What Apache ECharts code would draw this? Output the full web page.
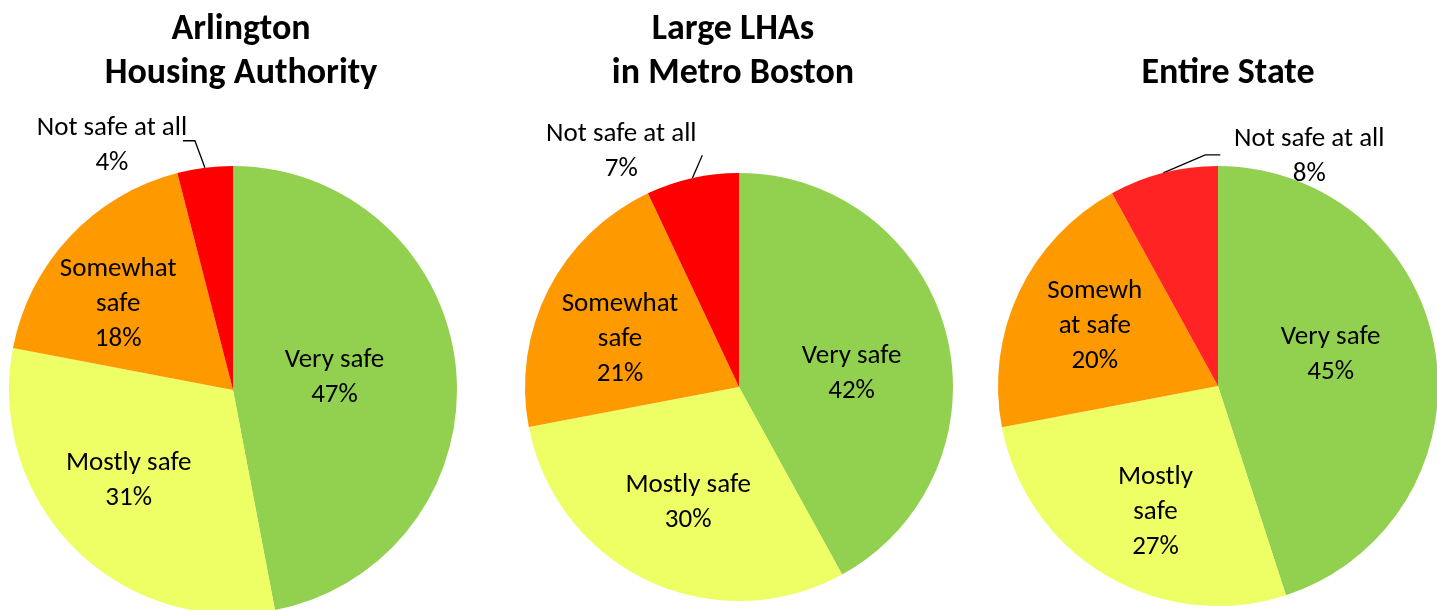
<!DOCTYPE html>
<html>
<head>
<meta charset="utf-8">
<title>Perceived safety</title>
<script src="https://cdn.jsdelivr.net/npm/echarts@6/dist/echarts.min.js"></script>
<style>
  html, body { margin: 0; padding: 0; background: #fff; }
  #chart { width: 1437px; height: 610px; }
</style>
</head>
<body>
<div id="chart"></div>
<script>
// data (percent)
var categories = ['Very safe', 'Mostly safe', 'Somewhat safe', 'Not safe at all'];
var arlington = [47, 31, 18, 4];
var metroBoston = [42, 30, 21, 7];
var entireState = [45, 27, 20, 8];
var titles = ['Arlington\nHousing Authority', 'Large LHAs\nin Metro Boston', 'Entire State'];
// label wording as wrapped in the original
var labelText = [
    ['Very safe', 'Mostly safe', 'Somewhat\nsafe', 'Not safe at all'],
    ['Very safe', 'Mostly safe', 'Somewhat\nsafe', 'Not safe at all'],
    ['Very safe', 'Mostly\nsafe', 'Somewh\nat safe', 'Not safe at all']
];

var colors = ['#92D050', '#EEFF66', '#FF9900', '#FF0000'];
var colorsState = ['#92D050', '#EEFF66', '#FF9900', '#FF2323'];
var fontFam = 'Carlito, Calibri, Lato, sans-serif';

// small nudges of the inside labels, [dx, dy]
var insideNudge = [
    [[-13, -1], [-23, 9], [-31, -7]],
    [[6, 14], [-4, 16], [-21, 2]],
    [[1, -14], [-5, 29], [-21, -12]]
];
// leader line bends and label centre relative to the slice edge point
var outsideCfg = [
    { line: [[-10, -27], [-22, -27]], text: [-93, -22] },
    { line: [[10, -23]], text: [-71, -26] },
    { line: [[42, -18], [57, -18]], text: [146, -16] }
];

var myChart = echarts.init(document.getElementById('chart'));

function makeData(values, cols) {
    return values.map(function (v, i) {
        var item = { name: categories[i], value: v, itemStyle: { color: cols[i] } };
        if (i === values.length - 1) {
            item.label = { position: 'outside' };
            item.labelLine = { show: true, length: 12, length2: 10, lineStyle: { color: '#000', width: 1.3 } };
        }
        return item;
    });
}

function pieSeries(idx, values, cols, center, radius) {
    return {
        type: 'pie',
        center: center,
        radius: radius,
        startAngle: 90,
        clockwise: true,
        avoidLabelOverlap: false,
        animation: false,
        emphasis: { disabled: true },
        label: {
            show: true,
            position: 'inside',
            color: '#000',
            fontFamily: fontFam,
            fontSize: 27,
            lineHeight: 35,
            align: 'center',
            formatter: function (p) {
                return labelText[p.seriesIndex][p.dataIndex] + '\n' + p.value + '%';
            }
        },
        labelLine: { show: false },
        labelLayout: function (params) {
            var s = params.seriesIndex, d = params.dataIndex;
            if (d < 3) {
                return { dx: insideNudge[s][d][0], dy: insideNudge[s][d][1] };
            }
            var pts = params.labelLinePoints;
            if (!pts) return {};
            var e = pts[0];
            var cfg = outsideCfg[s];
            var line = [e].concat(cfg.line.map(function (o) { return [e[0] + o[0], e[1] + o[1]]; }));
            return {
                x: e[0] + cfg.text[0],
                y: e[1] + cfg.text[1],
                align: 'center',
                verticalAlign: 'middle',
                labelLinePoints: line
            };
        },
        data: makeData(values, cols)
    };
}

var titleStyle = { color: '#000', fontFamily: fontFam, fontWeight: 'bold', fontSize: 36, lineHeight: 44 };

var option = {
    backgroundColor: '#fff',
    title: [
        { text: titles[0], left: 236, top: 3, textAlign: 'center', textStyle: titleStyle },
        { text: titles[1], left: 728, top: 3, textAlign: 'center', textStyle: titleStyle },
        { text: titles[2], left: 1223, top: 47, textAlign: 'center', textStyle: titleStyle }
    ],
    series: [
        pieSeries(0, arlington, colors, [233, 390], 224),
        pieSeries(1, metroBoston, colors, [739, 387], 214),
        pieSeries(2, entireState, colorsState, [1218, 386], 220)
    ]
};

myChart.setOption(option);
</script>
</body>
</html>
